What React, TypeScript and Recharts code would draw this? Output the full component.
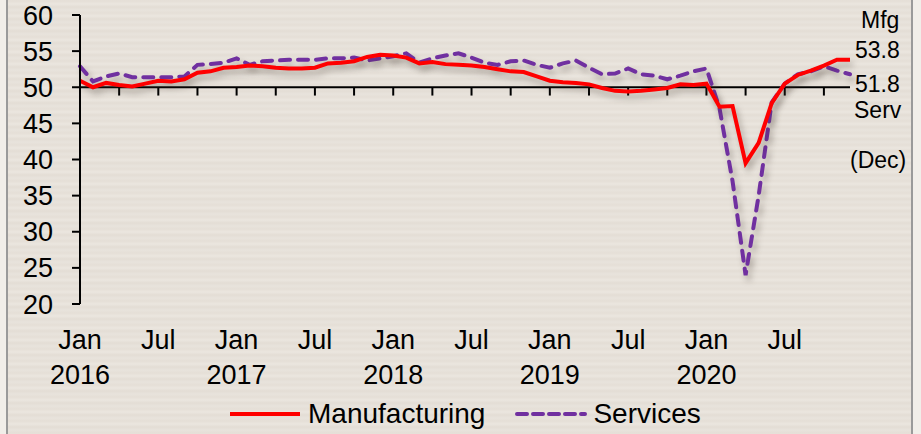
import React from "react";
import { LineChart, Line, XAxis, YAxis, ReferenceLine, Legend } from "recharts";

// Global PMI, Jan 2016 .. Dec 2020 (monthly)
const mfg = [
  50.9, 50.0, 50.6, 50.3, 50.1, 50.5, 50.9, 50.8, 51.1, 52.0, 52.2, 52.7,
  52.8, 53.0, 52.9, 52.7, 52.6, 52.6, 52.7, 53.3, 53.4, 53.6, 54.2, 54.5,
  54.4, 54.1, 53.3, 53.5, 53.2, 53.1, 53.0, 52.8, 52.5, 52.2, 52.1, 51.5,
  50.9, 50.7, 50.6, 50.4, 49.9, 49.5, 49.4, 49.5, 49.7, 49.9, 50.4, 50.3,
  50.5, 47.3, 47.4, 39.5, 42.3, 47.8, 50.5, 51.7, 52.3, 53.0, 53.8, 53.8,
];
const serv = [
  52.9, 50.8, 51.5, 51.9, 51.4, 51.4, 51.4, 51.4, 51.5, 53.1, 53.2, 53.4,
  54.0, 53.1, 53.6, 53.7, 53.8, 53.8, 53.8, 54.0, 54.0, 54.1, 53.7, 54.0,
  54.3, 54.7, 53.4, 54.0, 54.4, 54.7, 54.1, 53.4, 53.1, 53.6, 53.7, 53.1,
  52.7, 53.3, 53.7, 52.7, 51.8, 51.9, 52.6, 51.8, 51.6, 51.1, 51.6, 52.2,
  52.6, 47.1, 37.0, 24.0, 35.0, 47.9, 50.5, 51.8, 52.2, 52.9, 52.3, 51.8,
];

const labelMonths = [0, 6, 12, 18, 24, 30, 36, 42, 48, 54];
const labelTop = ["Jan", "Jul", "Jan", "Jul", "Jan", "Jul", "Jan", "Jul", "Jan", "Jul"];
const labelBottom = ["2016", "", "2017", "", "2018", "", "2019", "", "2020", ""];
const minorTicks = [3, 6, 9, 12, 15, 18, 21, 24, 27, 30, 33, 36, 39, 42, 45, 48, 51, 54, 57];
const yTicks = [20, 25, 30, 35, 40, 45, 50, 55, 60];

const data = mfg.map((v, i) => ({ m: i, mfg: v, serv: serv[i] }));

const FONT = "'Liberation Sans', Arial, sans-serif";
const RED = "#ff0000";
const PURPLE = "#7030a0";

function MonthTick(props: any) {
  const { x, y, payload } = props;
  const i = labelMonths.indexOf(payload.value);
  return (
    <g>
      <text x={x} y={y + 37} textAnchor="middle" fontSize={27} fill="#000" fontFamily={FONT}>
        {labelTop[i]}
      </text>
      <text x={x} y={y + 72} textAnchor="middle" fontSize={27} fill="#000" fontFamily={FONT}>
        {labelBottom[i]}
      </text>
    </g>
  );
}

function LegendBox() {
  return (
    <div style={{ display: "flex", alignItems: "center", paddingLeft: 230, fontFamily: FONT, fontSize: 28, color: "#000", height: 40 }}>
      <svg width={72} height={10}>
        <line x1={0} y1={5} x2={70} y2={5} stroke={RED} strokeWidth={4} />
      </svg>
      <span style={{ marginLeft: 6 }}>Manufacturing</span>
      <svg width={72} height={10} style={{ marginLeft: 30 }}>
        <line x1={2} y1={5} x2={70} y2={5} stroke={PURPLE} strokeWidth={4} strokeDasharray="10 6" strokeLinecap="round" />
      </svg>
      <span style={{ marginLeft: 6 }}>Services</span>
    </div>
  );
}

const note = (text: string, top: number, left: number): React.ReactElement => (
  <div style={{ position: "absolute", top, left, fontFamily: FONT, fontSize: 23, color: "#000", lineHeight: "24px" }}>
    {text}
  </div>
);

export default function App() {
  return (
    <div style={{ position: "absolute", left: 0, top: 0, width: 921, height: 434, background: "#f1eee9", overflow: "hidden" }}>
      <style>{`.pmi .recharts-line-curve { filter: drop-shadow(3px 5px 3px rgba(60,50,40,0.35)); }`}</style>
      <div
        style={{
          position: "absolute", left: 6, top: -2, width: 903, height: 440,
          borderLeft: "2px solid #9a9a9a", borderRight: "2px solid #9a9a9a",
          background: "repeating-linear-gradient(180deg, #e8e3dc 0px, #e5dfd7 3px, #ebe6df 6px, #e3ddd5 9px, #e8e3dc 12px)",
        }}
      />
      <div className="pmi" style={{ position: "absolute", left: 0, top: 0 }}>
        <LineChart width={921} height={434} data={data} margin={{ top: 15, right: 71, bottom: 0, left: 0 }}>
          <XAxis
            dataKey="m"
            type="number"
            domain={[0, 59]}
            ticks={labelMonths}
            tick={<MonthTick />}
            tickLine={false}
            axisLine={false}
            height={90}
            interval={0}
          />
          <YAxis
            domain={[20, 60]}
            ticks={yTicks}
            width={80}
            tickSize={8}
            tickMargin={19}
            axisLine={{ stroke: "#000", strokeWidth: 2 }}
            tickLine={{ stroke: "#000", strokeWidth: 2 }}
            tick={{ fontSize: 27, fill: "#000", fontFamily: FONT }}
            interval={0}
          />
          <ReferenceLine y={50} stroke="#000" strokeWidth={2} />
          {minorTicks.map((t) => (
            <ReferenceLine key={t} segment={[{ x: t, y: 50 }, { x: t, y: 48.85 }]} stroke="#000" strokeWidth={2} />
          ))}
          <Legend verticalAlign="bottom" height={40} content={<LegendBox />} wrapperStyle={{ left: 0, width: 921 }} />
          <Line dataKey="serv" stroke={PURPLE} strokeWidth={4} strokeDasharray="10 8" strokeLinecap="round" dot={false} isAnimationActive={false} />
          <Line dataKey="mfg" stroke={RED} strokeWidth={4} dot={false} isAnimationActive={false} />
        </LineChart>
      </div>
      {note("Mfg", 8, 861)}
      {note("53.8", 38, 855)}
      {note("51.8", 72, 855)}
      {note("Serv", 98, 854)}
      {note("(Dec)", 148, 850)}
    </div>
  );
}
